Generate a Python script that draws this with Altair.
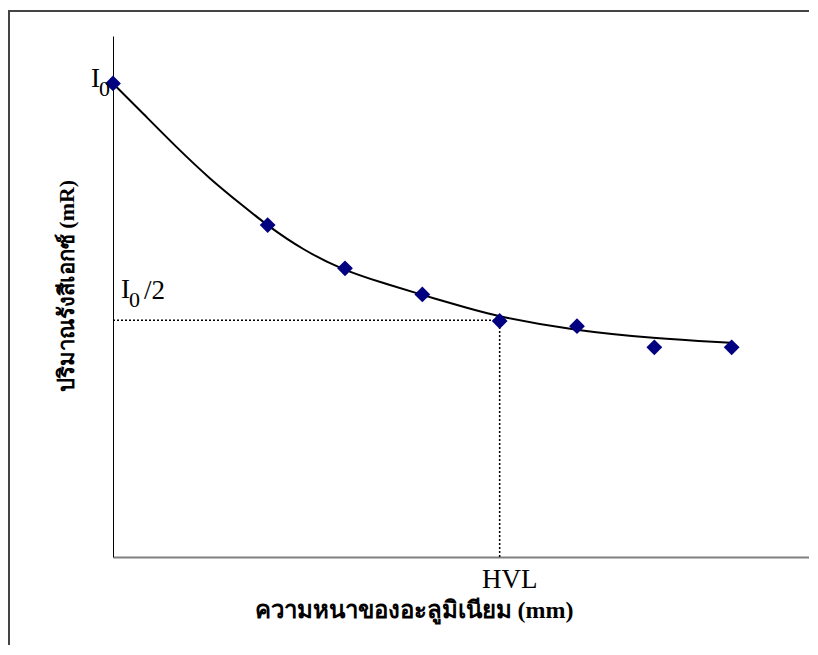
import altair as alt
import pandas as pd

# Measured points
thickness = [0, 2, 3, 4, 5, 6, 7, 8]
exposure = [90.9, 63.7, 55.4, 50.4, 45.3, 44.3, 40.25, 40.25]

# Fitted curve
curve_x = [0, 0.39, 0.83, 1.25, 1.68, 1.99, 2.46, 2.97, 3.49, 4.0, 4.58, 4.99, 6.0, 6.98, 7.98]
curve_y = [90.9, 85.1, 78.5, 72.6, 67.4, 63.7, 58.9, 55.1, 52.6, 50.3, 47.8, 46.1, 43.4, 42.0, 41.1]

I0 = exposure[0]
half = I0 / 2
hvl = 5

x_title = "ความหนาของอะลูมิเนียม (mm)"
y_title = "ปริมาณรังสีเอกซ์ (mR)"

W, H = 696, 521
xs = alt.Scale(domain=[0, 9], nice=False, zero=False)
ys = alt.Scale(domain=[0, 100], nice=False)

pts = pd.DataFrame({"x": thickness, "y": exposure})
crv = pd.DataFrame({"x": curve_x, "y": curve_y})

X = lambda: alt.X("x:Q", scale=xs, axis=alt.Axis(title=None, labels=False, ticks=False, grid=False,
                                                 domainColor="#808080", domainWidth=2))
Y = lambda: alt.Y("y:Q", scale=ys, axis=alt.Axis(title=None, labels=False, ticks=False, grid=False,
                                                 domainColor="#000000", domainWidth=1))

base_axes = alt.Chart(pts).mark_point(opacity=0).encode(x=X(), y=Y())

hline = alt.Chart(pd.DataFrame({"x": [0], "x2": [hvl], "y": [half]})).mark_rule(
    color="black", strokeWidth=1.5, strokeDash=[2, 2]).encode(
    x=alt.X("x:Q", scale=xs), x2="x2:Q", y=alt.Y("y:Q", scale=ys))
vline = alt.Chart(pd.DataFrame({"x": [hvl], "y": [0], "y2": [half]})).mark_rule(
    color="black", strokeWidth=1.5, strokeDash=[2, 2]).encode(
    x=alt.X("x:Q", scale=xs), y=alt.Y("y:Q", scale=ys), y2="y2:Q")

curve = alt.Chart(crv).mark_line(color="black", strokeWidth=2, interpolate="basis").encode(
    x=alt.X("x:Q", scale=xs), y=alt.Y("y:Q", scale=ys))

points = alt.Chart(pts).mark_point(shape="diamond", filled=True, size=250, color="#000080", opacity=1).encode(
    x=alt.X("x:Q", scale=xs), y=alt.Y("y:Q", scale=ys))

serif = "Liberation Serif"

def lab(text, x, y, dx, dy, size, align="left"):
    return alt.Chart(pd.DataFrame({"x": [x], "y": [y], "t": [text]})).mark_text(
        font=serif, fontSize=size, align=align, baseline="alphabetic", dx=dx, dy=dy, color="black").encode(
        x=alt.X("x:Q", scale=xs), y=alt.Y("y:Q", scale=ys), text="t:N")

i0_I = lab("I", 0, I0, -22, 4, 27)
i0_0 = lab("0", 0, I0, -14, 13, 22)
h_I = lab("I", 0, half, 8, -22, 27)
h_0 = lab("0", 0, half, 16, -13, 22)
h_2 = lab("/2", 0, half, 31, -21, 27)
hvl_t = lab("HVL", hvl, 0, 10, 31, 27, align="center")

xt = alt.Chart(pd.DataFrame({"t": [x_title]})).mark_text(
    font=serif, fontSize=24, fontWeight="bold", align="center", baseline="middle", color="black").encode(
    x=alt.value(301), y=alt.value(575), text="t:N")
yt = alt.Chart(pd.DataFrame({"t": [y_title]})).mark_text(
    font=serif, fontSize=22, fontWeight="bold", align="center", baseline="middle", angle=270, color="black").encode(
    x=alt.value(-46), y=alt.value(250), text="t:N")

border_left = alt.Chart(pd.DataFrame({"a": [0]})).mark_rule(color="#444444", strokeWidth=2).encode(
    x=alt.value(-104), y=alt.value(-25), y2=alt.value(620))
border_top = alt.Chart(pd.DataFrame({"a": [0]})).mark_rule(color="#444444", strokeWidth=2).encode(
    x=alt.value(-105), x2=alt.value(696), y=alt.value(-25))

chart = alt.layer(
    base_axes, border_left, border_top, hline, vline, curve, points,
    i0_I, i0_0, h_I, h_0, h_2, hvl_t, xt, yt
).properties(
    width=W, height=H,
    autosize=alt.AutoSizeParams(type="none"),
    padding={"left": 105, "top": 28, "right": 0, "bottom": 88},
    background="white",
).configure_view(stroke=None)

chart.save("out.html", embed_options={"renderer": "svg", "actions": False})
